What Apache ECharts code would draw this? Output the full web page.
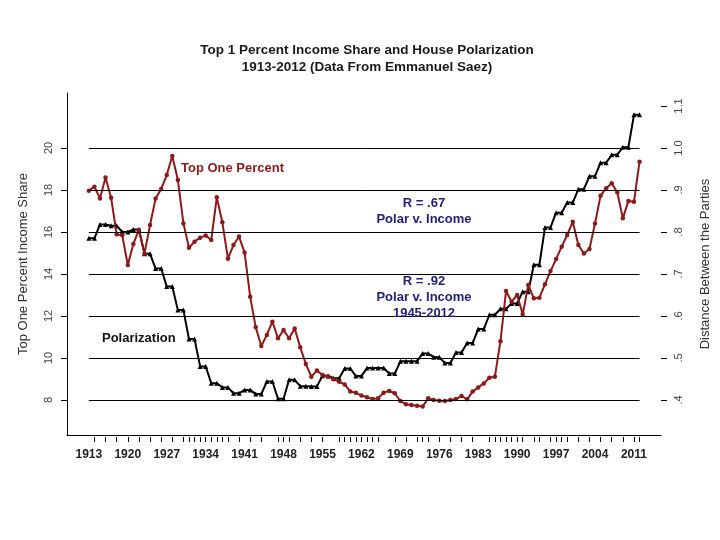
<!DOCTYPE html>
<html><head><meta charset="utf-8">
<script src="https://cdn.jsdelivr.net/npm/echarts@6/dist/echarts.min.js"></script>
<style>html,body{margin:0;padding:0;background:#fff}#c{width:720px;height:540px}</style>
</head><body><div id="c"></div>
<script>
const years = [1913,1914,1915,1916,1917,1918,1919,1920,1921,1922,1923,1924,1925,1926,1927,1928,1929,1930,1931,1932,1933,1934,1935,1936,1937,1938,1939,1940,1941,1942,1943,1944,1945,1946,1947,1948,1949,1950,1951,1952,1953,1954,1955,1956,1957,1958,1959,1960,1961,1962,1963,1964,1965,1966,1967,1968,1969,1970,1971,1972,1973,1974,1975,1976,1977,1978,1979,1980,1981,1982,1983,1984,1985,1986,1987,1988,1989,1990,1991,1992,1993,1994,1995,1996,1997,1998,1999,2000,2001,2002,2003,2004,2005,2006,2007,2008,2009,2010,2011,2012];
const topOnePercent = [17.97,18.16,17.60,18.60,17.63,15.89,15.84,14.43,15.43,16.10,14.98,16.33,17.60,18.05,18.71,19.62,18.48,16.41,15.25,15.54,15.73,15.83,15.62,17.65,16.46,14.73,15.38,15.78,15.02,12.92,11.46,10.57,11.10,11.73,10.94,11.33,10.94,11.41,10.51,9.72,9.11,9.40,9.19,9.11,8.99,8.87,8.74,8.40,8.34,8.22,8.13,8.05,8.08,8.35,8.43,8.32,7.95,7.80,7.76,7.73,7.69,8.08,8.00,7.97,7.95,8.00,8.05,8.19,8.03,8.40,8.60,8.79,9.06,9.11,10.80,13.19,12.68,13.00,12.08,13.48,12.84,12.87,13.51,14.14,14.71,15.30,15.86,16.49,15.38,14.98,15.19,16.41,17.73,18.08,18.32,17.89,16.65,17.48,17.44,19.35];
const polarization = [0.785,0.785,0.818,0.818,0.815,0.815,0.800,0.800,0.806,0.806,0.748,0.748,0.713,0.713,0.670,0.670,0.614,0.614,0.545,0.545,0.480,0.480,0.440,0.440,0.430,0.430,0.416,0.416,0.424,0.424,0.414,0.414,0.444,0.444,0.403,0.403,0.448,0.448,0.433,0.433,0.432,0.432,0.458,0.458,0.452,0.452,0.475,0.475,0.457,0.457,0.476,0.476,0.476,0.476,0.463,0.463,0.492,0.492,0.492,0.492,0.511,0.511,0.502,0.502,0.488,0.488,0.513,0.513,0.536,0.536,0.569,0.569,0.603,0.603,0.617,0.617,0.630,0.630,0.658,0.658,0.722,0.722,0.811,0.811,0.846,0.846,0.870,0.870,0.902,0.902,0.933,0.933,0.965,0.965,0.984,0.984,1.002,1.002,1.079,1.079];
const xLabelYears = [1913,1920,1927,1934,1941,1948,1955,1962,1969,1976,1983,1990,1997,2004,2011];
const xTickYears = [1914,1916,1918,1920,1922,1924,1926,1928,1930,1931,1932,1933,1934,1935,1936,1937,1938,1940,1942,1944,1947,1948,1949,1951,1953,1955,1958,1959,1960,1961,1962,1963,1964,1965,1968,1970,1972,1973,1974,1976,1978,1980,1982,1985,1986,1987,1988,1989,1990,1991,1993,1994,1996,1997,1998,1999,2001,2003,2005,2007,2009,2011,2012];
const leftTicks = [8,10,12,14,16,18,20];
const rightTicks = [0.4,0.5,0.6,0.7,0.8,0.9,1.0,1.1];
const gridValues = [8,10,12,14,16,18,20];

const FONT = '"Liberation Sans", Arial, sans-serif';
const redColor = '#8b1a1a';
const blueColor = '#22227a';

const redData = years.map((y,i)=>[y, topOnePercent[i]]);
const blackData = years.map((y,i)=>[y, polarization[i]]);
const firstYear = years[0], lastYear = years[years.length-1];

const chart = echarts.init(document.getElementById('c'), null, {renderer:'canvas'});
chart.setOption({
  animation:false,
  backgroundColor:'#fff',
  grid:{left:67,right:55,top:93,bottom:105,containLabel:false},
  xAxis:[{
    type:'value', min:1909.07, max:2015.86, position:'bottom',
    axisLine:{show:true,lineStyle:{color:'#000',width:1}},
    axisTick:{show:false}, axisLabel:{show:false}, splitLine:{show:false}
  },{
    type:'value', min:1909.07, max:2015.86, position:'bottom', offset:2,
    axisLine:{show:false},
    axisTick:{show:true,length:5,customValues:xTickYears,lineStyle:{color:'#000',width:1}},
    axisLabel:{customValues:xLabelYears,margin:12,color:'#222',fontSize:12,fontWeight:'bold',fontFamily:FONT,formatter:v=>String(v)},
    splitLine:{show:false}
  }],
  yAxis:[{
    type:'value', min:6.3333, max:22.619, position:'left',
    axisLine:{show:true,lineStyle:{color:'#000',width:1}},
    axisTick:{show:true,length:6,customValues:leftTicks,lineStyle:{color:'#000'}},
    axisLabel:{customValues:leftTicks,rotate:90,margin:13,color:'#444',fontSize:11,fontFamily:FONT},
    splitLine:{show:false},
    name:'Top One Percent Income Share', nameLocation:'middle', nameRotate:90, nameGap:37,
    nameTextStyle:{fontSize:13,color:'#333',fontFamily:FONT}
  },{
    type:'value', min:0.31667, max:1.13095, position:'right',
    axisLine:{show:false},
    axisTick:{show:true,length:6,customValues:rightTicks,lineStyle:{color:'#000'}},
    axisLabel:{customValues:rightTicks,rotate:90,margin:12,color:'#444',fontSize:11,fontFamily:FONT,
      formatter:v=> v>=0.999 ? v.toFixed(1) : '.'+Math.round(v*10)},
    splitLine:{show:false},
    name:'Distance Between the Parties', nameLocation:'middle', nameRotate:90, nameGap:38,
    nameTextStyle:{fontSize:13,color:'#333',fontFamily:FONT}
  }],
  series:[{
    type:'line', name:'grid', xAxisIndex:0, yAxisIndex:0, data:[], z:1, silent:true,
    markLine:{silent:true, symbol:['none','none'], label:{show:false},
      lineStyle:{color:'#000',width:1,type:'solid'},
      data: gridValues.map(v=>[{coord:[firstYear,v]},{coord:[lastYear,v]}])}
  },{
    type:'line', name:'Polarization', xAxisIndex:0, yAxisIndex:1, data:blackData, z:3,
    symbol:'triangle', symbolSize:5, showAllSymbol:true,
    itemStyle:{color:'#000'}, lineStyle:{color:'#000',width:2}
  },{
    type:'line', name:'Top One Percent', xAxisIndex:0, yAxisIndex:0, data:redData, z:4,
    symbol:'circle', symbolSize:4.5, showAllSymbol:true,
    itemStyle:{color:redColor}, lineStyle:{color:redColor,width:2}
  }],
  graphic:[
    {type:'text', x:367, y:50, style:{text:'Top 1 Percent Income Share and House Polarization', fill:'#1a1a1a', font:'bold 13.5px '+FONT, align:'center', verticalAlign:'middle'}},
    {type:'text', x:367, y:67, style:{text:'1913-2012 (Data From Emmanuel Saez)', fill:'#1a1a1a', font:'bold 13.5px '+FONT, align:'center', verticalAlign:'middle'}},
    {type:'text', x:181, y:168, z:10, style:{text:'Top One Percent', fill:redColor, font:'bold 13px '+FONT, align:'left', verticalAlign:'middle'}},
    {type:'text', x:424, y:203, z:10, style:{text:'R = .67', fill:blueColor, font:'bold 13px '+FONT, align:'center', verticalAlign:'middle'}},
    {type:'text', x:424, y:219, z:10, style:{text:'Polar v. Income', fill:blueColor, font:'bold 13px '+FONT, align:'center', verticalAlign:'middle'}},
    {type:'text', x:424, y:281, z:10, style:{text:'R = .92', fill:blueColor, font:'bold 13px '+FONT, align:'center', verticalAlign:'middle'}},
    {type:'text', x:424, y:297, z:10, style:{text:'Polar v. Income', fill:blueColor, font:'bold 13px '+FONT, align:'center', verticalAlign:'middle'}},
    {type:'text', x:424, y:313, z:10, style:{text:'1945-2012', fill:blueColor, font:'bold 13px '+FONT, align:'center', verticalAlign:'middle'}},
    {type:'text', x:102, y:338, z:10, style:{text:'Polarization', fill:'#111', font:'bold 13px '+FONT, align:'left', verticalAlign:'middle'}}
  ]
});
</script></body></html>
